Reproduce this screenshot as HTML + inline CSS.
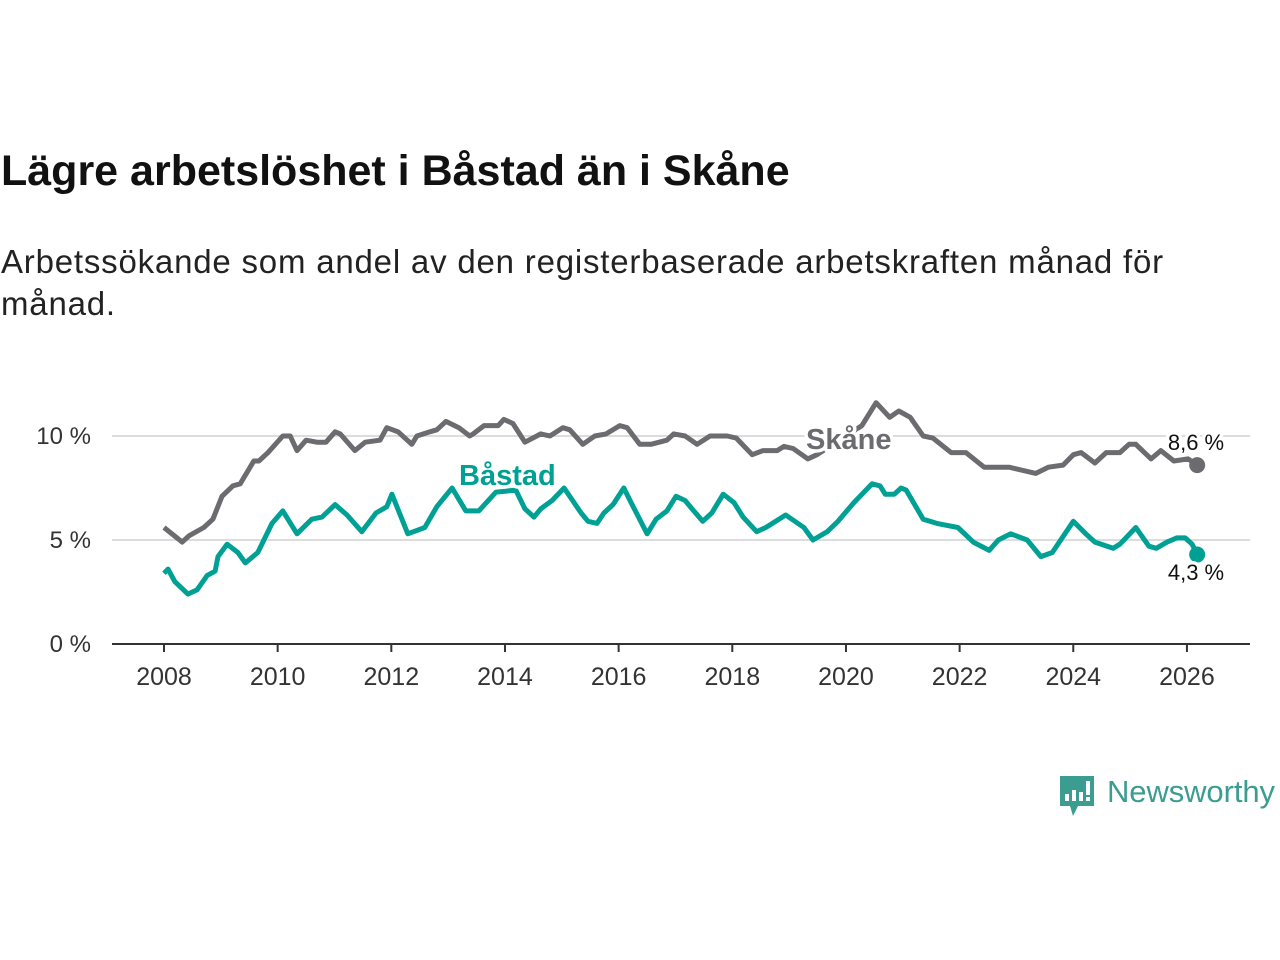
<!DOCTYPE html>
<html><head><meta charset="utf-8">
<style>
html,body{margin:0;padding:0;background:#fff;width:1280px;height:960px;overflow:hidden;font-family:"Liberation Sans",sans-serif;}
#title{position:absolute;left:1px;top:147px;font-size:43px;font-weight:bold;color:#111;margin:0;white-space:nowrap;}
#subtitle{position:absolute;left:1px;top:241px;width:1270px;font-size:33px;letter-spacing:0.8px;line-height:42px;color:#222;margin:0;white-space:nowrap;}
svg{position:absolute;left:0;top:0;}
</style></head><body>
<h1 id="title">Lägre arbetslöshet i Båstad än i Skåne</h1>
<p id="subtitle">Arbetssökande som andel av den registerbaserade arbetskraften månad för<br>månad.</p>
<svg id="chart" width="1280" height="960"></svg>
<script>
const xTicks = [2008,2010,2012,2014,2016,2018,2020,2022,2024,2026];
const yTicks = [0,5,10];
const skaneT = [0,0.32,0.44,0.70,0.86,1.02,1.21,1.34,1.58,1.67,1.83,2.09,2.22,2.34,2.50,2.69,2.85,3.01,3.10,3.36,3.54,3.80,3.92,4.12,4.36,4.45,4.68,4.80,4.96,5.19,5.38,5.44,5.63,5.88,5.98,6.14,6.35,6.63,6.79,7.02,7.14,7.37,7.58,7.78,8.02,8.15,8.37,8.57,8.85,8.97,9.17,9.38,9.61,9.91,10.07,10.35,10.54,10.79,10.91,11.07,11.33,11.49,12.28,12.53,12.77,12.93,13.13,13.36,13.53,13.85,14.11,14.43,14.87,15.34,15.56,15.82,16.00,16.14,16.38,16.58,16.82,16.98,17.10,17.37,17.54,17.77,18.02,18.18];
const skaneV = [5.6,4.9,5.2,5.6,6.0,7.1,7.6,7.7,8.8,8.8,9.2,10.0,10.0,9.3,9.8,9.7,9.7,10.2,10.1,9.3,9.7,9.8,10.4,10.2,9.6,10.0,10.2,10.3,10.7,10.4,10.0,10.1,10.5,10.5,10.8,10.6,9.7,10.1,10.0,10.4,10.3,9.6,10.0,10.1,10.5,10.4,9.6,9.6,9.8,10.1,10.0,9.6,10.0,10.0,9.9,9.1,9.3,9.3,9.5,9.4,8.9,9.1,10.5,11.6,10.9,11.2,10.9,10.0,9.9,9.2,9.2,8.5,8.5,8.2,8.5,8.6,9.1,9.2,8.7,9.2,9.2,9.6,9.6,8.9,9.3,8.8,8.9,8.6];
const bastadT = [0,0.07,0.19,0.42,0.58,0.76,0.90,0.95,1.11,1.30,1.43,1.65,1.90,2.09,2.34,2.60,2.78,3.01,3.22,3.48,3.73,3.92,4.01,4.29,4.59,4.80,5.07,5.31,5.54,5.84,6.19,6.35,6.51,6.63,6.83,7.04,7.34,7.46,7.62,7.74,7.90,8.09,8.22,8.50,8.66,8.85,9.01,9.17,9.29,9.48,9.64,9.84,10.03,10.19,10.43,10.59,10.94,11.26,11.42,11.67,11.86,12.14,12.46,12.60,12.69,12.85,12.97,13.06,13.36,13.60,13.97,14.24,14.52,14.68,14.90,15.19,15.43,15.63,16.00,16.22,16.38,16.70,16.82,17.10,17.33,17.46,17.65,17.82,17.97,18.09,18.18];
const bastadV = [3.4,3.6,3.0,2.4,2.6,3.3,3.5,4.2,4.8,4.4,3.9,4.4,5.8,6.4,5.3,6.0,6.1,6.7,6.2,5.4,6.3,6.6,7.2,5.3,5.6,6.6,7.5,6.4,6.4,7.3,7.4,6.5,6.1,6.5,6.9,7.5,6.3,5.9,5.8,6.3,6.7,7.5,6.8,5.3,6.0,6.4,7.1,6.9,6.5,5.9,6.3,7.2,6.8,6.1,5.4,5.6,6.2,5.6,5.0,5.4,5.9,6.8,7.7,7.6,7.2,7.2,7.5,7.4,6.0,5.8,5.6,4.9,4.5,5.0,5.3,5.0,4.2,4.4,5.9,5.3,4.9,4.6,4.8,5.6,4.7,4.6,4.9,5.1,5.1,4.8,4.3];

const NS='http://www.w3.org/2000/svg';
const svg=document.getElementById('chart');
const x0=164, pxPerYear=56.83, y0=644, pxPerUnit=20.8;
const xs=y=>x0+(y-2008)*pxPerYear;
const xt=t=>x0+t*pxPerYear;
const ys=v=>y0-v*pxPerUnit;
function mk(tag,attrs,parent){const e=document.createElementNS(NS,tag);for(const k in attrs)e.setAttribute(k,attrs[k]);(parent||svg).appendChild(e);return e;}

yTicks.forEach(v=>{
  if(v>0){const g=mk('line',{x1:112,x2:1250,y1:ys(v),y2:ys(v),stroke:'#dcdcdc','stroke-width':2});
  
  }
  const t=mk('text',{x:91,y:ys(v)+8,'text-anchor':'end','font-size':24,fill:'#333','font-family':'Liberation Sans, sans-serif'});
  t.textContent=v+' %';
  
  
});
const ax=mk('line',{x1:112,x2:1250,y1:y0,y2:y0,stroke:'#333','stroke-width':2});


xTicks.forEach(yr=>{
  const tk=mk('line',{x1:xs(yr),x2:xs(yr),y1:y0,y2:y0+8,stroke:'#333','stroke-width':2});
  
  
  const t=mk('text',{x:xs(yr),y:y0+41,'text-anchor':'middle','font-size':25,fill:'#333','font-family':'Liberation Sans, sans-serif'});
  t.textContent=yr;
  
  
});
function line(T,V,color,name){
  const d=T.map((t,i)=>(i?'L':'M')+xt(t).toFixed(1)+','+ys(V[i]).toFixed(1)).join('');
  const p=mk('path',{d:d,fill:'none',stroke:color,'stroke-width':5,'stroke-linejoin':'round'});
  
  
  const n=T.length-1;
  const c=mk('circle',{cx:xt(T[n]),cy:ys(V[n]),r:8,fill:color});
  
  
}
line(skaneT,skaneV,'#6b6b70','skane');
line(bastadT,bastadV,'#00a194','bastad');
function label(x,y,txt,color,size,weight,name,anchor){
  const t=mk('text',{x:x,y:y,'font-size':size,'font-weight':weight,fill:color,stroke:'#fff','stroke-width':7,'paint-order':'stroke','stroke-linejoin':'round','text-anchor':anchor||'start','font-family':'Liberation Sans, sans-serif'});
  t.textContent=txt;
  
  
}
label(806,449,'Skåne','#6b6b70',29,'bold','skane-series-label');
label(459,485,'Båstad','#00a194',29,'bold','bastad-series-label');
label(1196,450,'8,6 %','#111',22,'normal','skane-end-value','middle');
label(1196,580,'4,3 %','#111',22,'normal','bastad-end-value','middle');
</script>
<svg width="1280" height="960" style="pointer-events:none">
  <path d="M1060 776 h34 v30 h-16 l-5 10 l-3 -10 h-10 z" fill="#3b9c90"/>
  <rect x="1065" y="794" width="4" height="7" fill="#fff"/>
  <rect x="1072" y="790" width="4" height="11" fill="#fff"/>
  <rect x="1079" y="792" width="4" height="9" fill="#fff"/>
  <rect x="1086" y="781" width="4" height="14" fill="#fff"/>
  <rect x="1086" y="797" width="4" height="4" fill="#fff"/>
  <text x="1107" y="802" font-size="31" fill="#3b9c90" textLength="168" font-family="Liberation Sans, sans-serif">Newsworthy</text>
</svg>
</body></html>
